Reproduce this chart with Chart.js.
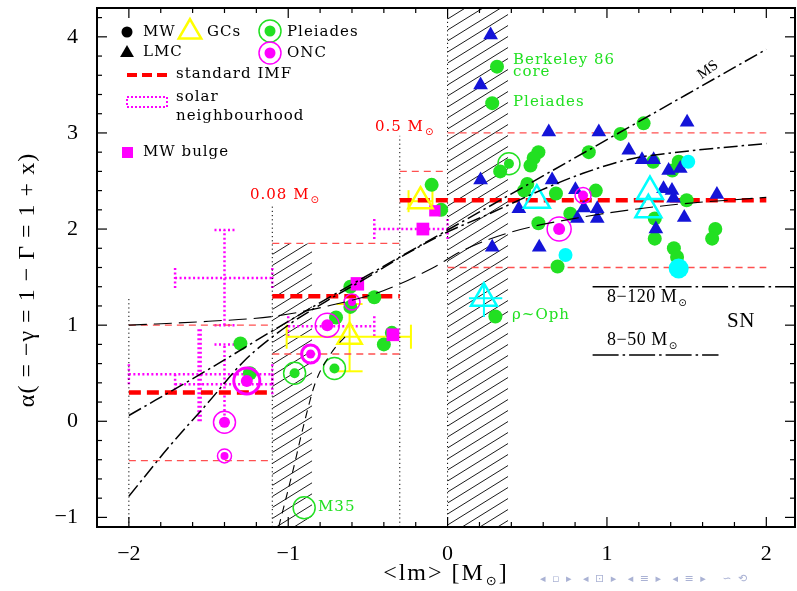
<!DOCTYPE html>
<html><head><meta charset="utf-8">
<script src="https://cdn.jsdelivr.net/npm/chart.js@4.4.1/dist/chart.umd.min.js"></script>
<style>html,body{margin:0;padding:0;background:#fff}canvas{display:block}</style>
</head><body>
<canvas id="c" width="797" height="591"></canvas>
<script>
// ---------------- data ----------------
const xTickValues = [-2, -1, 0, 1, 2];
const yTickValues = [-1, 0, 1, 2, 3, 4];

// Milky Way clusters (green filled circles) [lm, alpha]
const mwClusters = [
 [-1.30,0.81],[-1.24,0.50],[-0.61,1.40],[-0.46,1.29],[-0.61,1.19],[-0.70,1.08],[-0.40,0.80],[-0.35,0.92],
 [-0.10,2.46],[-0.04,2.20],[0.31,3.69],[0.28,3.31],[0.30,1.09],[0.33,2.60],
 [0.57,2.80],[0.54,2.74],[0.52,2.66],[0.50,2.47],[0.48,2.40],[0.68,2.37],[0.93,2.40],[0.886,2.80],
 [1.085,2.99],[1.23,3.10],[1.29,2.70],[1.45,2.70],[1.50,2.30],[0.77,2.16],[0.57,2.06],[1.30,2.11],
 [1.30,1.90],[1.42,1.80],[1.44,1.71],[1.68,2.00],[1.66,1.90],[0.69,1.61],[1.41,2.61]
];
// LMC clusters (blue triangles)
const lmcClusters = [
 [0.27,4.02],[0.207,3.50],[0.207,2.51],[0.28,1.81],[0.447,2.21],[0.575,1.81],
 [0.635,3.01],[0.949,3.01],[1.503,3.11],[1.137,2.82],[1.22,2.72],[1.293,2.72],[1.387,2.61],[1.46,2.63],
 [0.656,2.51],[0.802,2.41],[1.355,2.42],[1.408,2.40],[1.418,2.32],[1.69,2.36],[0.855,2.22],[0.939,2.21],
 [0.814,2.11],[0.939,2.11],[1.485,2.12],[1.307,2.00]
];
const cyanDots = [[1.51,2.70],[0.74,1.73],[1.45,1.59]];
const cyanTriangles = [[0.56,2.30],[1.27,2.39],[1.26,2.20],[0.228,1.28]];
const cyanErr = [{x:0.228, y:1.28, xlo:0.134, xhi:0.343, ylo:1.085, yhi:1.43}];
// globular clusters
const gcs = [[-0.615,0.88],[-0.17,2.29]];
const gcErr = [{x:-0.615, y:0.88, xlo:-1.01, xhi:-0.23, ylo:0.52, yhi:1.22},
               {x:-0.17, y:2.29, xlo:-0.245, xhi:-0.095, ylo:null, yhi:null}];
// Pleiades-type rings, ONC-type rings, MW bulge
const pleiadesRings = [[-0.96,0.50],[-0.71,0.55],[0.385,2.68],[-0.90,-0.90]];
const pleiadesDots = [[-0.96,0.50],[-0.71,0.55],[0.385,2.68]];
const oncPoints = [[-0.755,1.00],[-0.86,0.70],[-1.26,0.42],[-1.40,-0.01],[-1.40,-0.36],[0.70,2.00],[0.85,2.35],[-0.60,1.24]];
const mwBulge = [[-0.08,2.19],[-0.155,2.00],[-0.566,1.43],[-0.343,0.90]];
// solar neighbourhood error bars: horizontal [alpha, lmFrom, lmTo], vertical [lm, alphaFrom, alphaTo]
const solarH = [[1.49,-1.71,-1.10],[0.49,-2.00,-1.10],[0.385,-1.71,-1.10],[0.99,-1.00,-0.46],[2.00,-0.46,0.00]];
const solarV = [[-1.40,1.00,1.99],[-1.40,0.06,0.80],[-1.556,0.00,0.97]];
// standard IMF [lmFrom, lmTo, alpha] and its uncertainty bounds
const stdIMF = [[-2.0,-1.1,0.3],[-1.1,-0.3,1.3],[-0.3,2.0,2.3]];
const stdIMFBounds = [[-2.0,-1.1,1.0],[-2.0,-1.1,-0.41],[-1.1,-0.3,1.85],[-1.1,-0.3,0.70],[-0.3,0.0,2.60],[0.0,2.0,3.0],[0.0,2.0,1.6]];
// mass limits (dotted verticals) [lm, top alpha]
const massLimits = [[-2.0,1.29],[-1.1,2.26],[-0.3,2.97],[0.0,4.3]];
// hatched regions [lmFrom, lmTo, top alpha]
const hatchRegions = [[-1.1,-0.85,1.85],[0.0,0.38,4.3]];
// model curves
const msCurve = [[-2,0.06],[-1.5,0.54],[-1,1.04],[-0.5,1.52],[0,1.99],[0.5,2.46],[1,2.93],[1.5,3.40],[2,3.87]];
const dashDotCurve = [[-2,-0.78],[-1.75,-0.27],[-1.5,0.20],[-1.275,0.63],[-1,1.00],[-0.77,1.24],[-0.5,1.50],[-0.25,1.75],[0,1.97],[0.25,2.15],[0.58,2.40],[0.85,2.58],[1.15,2.73],[1.5,2.81],[2.0,2.89]];
const longDashCurve = [[-2,1.00],[-1.5,1.04],[-1.1,1.09],[-0.75,1.20],[-0.4,1.36],[-0.1,1.59],[0.1,1.78],[0.38,1.96],[0.83,2.12],[1.4,2.25],[2.0,2.33]];
const steepDashCurve = [[-1.06,-1.1],[-0.97,-0.51],[-0.90,-0.02],[-0.83,0.40],[-0.73,0.71],[-0.62,0.92]];
// SN lines [lmFrom, lmTo, alpha]
const snLines = [[0.91,2.18,1.40],[0.91,1.70,0.69]];

// ---------------- build ----------------
const P = a => a.map(p => ({x:p[0], y:p[1]}));
const datasets = [];
function lineDS(data, color, width, dash, order, smooth){
  datasets.push({data, showLine:true, borderColor:color, borderWidth:width, borderDash:dash,
    pointRadius:0, pointHoverRadius:0, fill:false, tension:0, order,
    cubicInterpolationMode: smooth ? 'monotone' : 'default'});
}
function ptDS(data, o, order){
  datasets.push(Object.assign({data, showLine:false, order, pointHoverRadius:0}, o));
}
const RED = '#ff0000', RED_T = '#ff5050', GREEN = '#22e022', BLUE = '#1414d8', CYAN = '#00ffff', MAG = '#ff00ff', YEL = '#ffff00';

stdIMFBounds.forEach(s => lineDS(P([[s[0],s[2]],[s[1],s[2]]]), RED_T, 1.3, [7,5], 30));
massLimits.forEach(s => lineDS(P([[s[0],-1.1],[s[0],s[1]]]), '#000', 1, [1.2,3], 30));
stdIMF.forEach(s => lineDS(P([[s[0],s[2]],[s[1],s[2]]]), RED, 4.5, [12,6], 25));

ptDS(P(mwClusters), {pointStyle:'circle', pointRadius:7, pointBackgroundColor:GREEN, pointBorderColor:GREEN, pointBorderWidth:0}, 12);
ptDS(P(lmcClusters), {pointStyle:'triangle', pointRadius:8.5, pointBackgroundColor:BLUE, pointBorderColor:BLUE, pointBorderWidth:0}, 11);
ptDS(P(cyanDots), {pointStyle:'circle', pointRadius:[7,7,10], pointBackgroundColor:CYAN, pointBorderColor:CYAN, pointBorderWidth:0}, 10);
ptDS(P(cyanTriangles), {pointStyle:'triangle', pointRadius:15, pointBackgroundColor:'rgba(0,0,0,0)', pointBorderColor:CYAN, pointBorderWidth:2.5}, 9);
ptDS(P(pleiadesRings), {pointStyle:'circle', pointRadius:11, pointBackgroundColor:'rgba(0,0,0,0)', pointBorderColor:GREEN, pointBorderWidth:1.5}, 9);
ptDS(P(pleiadesDots), {pointStyle:'circle', pointRadius:5, pointBackgroundColor:GREEN, pointBorderColor:GREEN, pointBorderWidth:0}, 9);
ptDS(P(oncPoints), {pointStyle:'circle', pointRadius:[12,9,13,11,7,12,8,8], pointBackgroundColor:'rgba(0,0,0,0)', pointBorderColor:MAG, pointBorderWidth:[1.5,3,3,1.5,1.5,1.5,1.5,1.5]}, 8);
ptDS(P(oncPoints), {pointStyle:'circle', pointRadius:[6,4.5,6,5.5,4,6,5,4], pointBackgroundColor:MAG, pointBorderColor:MAG, pointBorderWidth:0}, 8);
ptDS(P(mwBulge), {pointStyle:'rect', pointRadius:[8,9,9.5,9], pointBackgroundColor:MAG, pointBorderColor:MAG, pointBorderWidth:0}, 7);
ptDS(P(gcs), {pointStyle:'triangle', pointRadius:14, pointBackgroundColor:'rgba(0,0,0,0)', pointBorderColor:YEL, pointBorderWidth:2.5}, 6);

lineDS(P(msCurve), '#000', 1.5, [14,4,2.5,4], 2, true);
lineDS(P(dashDotCurve), '#000', 1.5, [14,4,2.5,4], 2, true);
lineDS(P(longDashCurve), '#000', 1.1, [18,7], 2, true);
lineDS(P(steepDashCurve), '#000', 1.1, [8,6], 2, true);
snLines.forEach(s => lineDS(P([[s[0],s[2]],[s[1],s[2]]]), '#000', 1.5, [26,4,2.5,4], 2));

// ---------------- drawing helpers ----------------
function T(ctx, s, x, y, o = {}) {
  ctx.save();
  ctx.font = o.font || '15px "DejaVu Serif"';
  ctx.fillStyle = o.color || '#000';
  ctx.textAlign = o.align || 'left';
  ctx.textBaseline = 'middle';
  try { ctx.letterSpacing = (o.ls == null ? 1 : o.ls) + 'px'; } catch (e) {}
  if (o.rot) { ctx.translate(x, y); ctx.rotate(o.rot); ctx.fillText(s, 0, 0); }
  else ctx.fillText(s, x, y);
  const w = ctx.measureText(s).width;
  ctx.restore();
  return w;
}
function TM(ctx, pre, x, y, o, subFont, subDy) {
  const w = T(ctx, pre + 'M', x, y, o);
  const w2 = T(ctx, '⊙', x + w + 1, y + subDy, Object.assign({}, o, {font: subFont, ls: 0}));
  return w + 1 + w2;
}
function seg(ctx, x0, y0, x1, y1) { ctx.beginPath(); ctx.moveTo(x0, y0); ctx.lineTo(x1, y1); ctx.stroke(); }

const decor = {
  id: 'decor',
  beforeDatasetsDraw(chart) {
    const {ctx, chartArea: a, scales: {x: xs, y: ys}} = chart;
    const X = v => xs.getPixelForValue(v), Y = v => ys.getPixelForValue(v);
    hatchRegions.forEach(r => {
      const x0 = X(r[0]), x1 = X(r[1]), y0 = Math.max(Y(r[2]), a.top), y1 = a.bottom;
      ctx.save(); ctx.beginPath(); ctx.rect(x0, y0, x1 - x0, y1 - y0); ctx.clip();
      ctx.strokeStyle = '#000'; ctx.lineWidth = 0.9;
      const k = 0.62, step = 11, w = x1 - x0;
      for (let c = y0; c <= y1 + k * w + step; c += step) seg(ctx, x0, c, x1, c - k * w);
      ctx.restore();
    });
    ctx.save();
    ctx.beginPath(); ctx.rect(a.left, a.top, a.right - a.left, a.bottom - a.top); ctx.clip();
    ctx.strokeStyle = MAG; ctx.lineWidth = 2.5; ctx.setLineDash([2, 2.5]);
    solarH.forEach(h => {
      const y = Y(h[0]), x0 = X(h[1]), x1 = X(h[2]);
      seg(ctx, x0, y, x1, y); seg(ctx, x0, y - 10, x0, y + 10); seg(ctx, x1, y - 10, x1, y + 10);
    });
    solarV.forEach((v, i) => {
      const x = X(v[0]), y0 = Y(v[1]), y1 = Y(v[2]);
      ctx.lineWidth = i === 2 ? 4.5 : 2.5;
      seg(ctx, x, y0, x, y1);
      if (i < 2) { seg(ctx, x - 10, y1, x + 10, y1); if (i === 0) seg(ctx, x - 10, y0, x + 10, y0); }
    });
    ctx.setLineDash([]);
    ctx.strokeStyle = YEL; ctx.lineWidth = 2;
    gcErr.forEach(e => {
      const y = Y(e.y), x = X(e.x);
      const c = e.ylo == null ? 11 : 12;
      seg(ctx, X(e.xlo), y, X(e.xhi), y);
      seg(ctx, X(e.xlo), y - c, X(e.xlo), y + c); seg(ctx, X(e.xhi), y - c, X(e.xhi), y + c);
      if (e.ylo != null) {
        seg(ctx, x, Y(e.ylo), x, Y(e.yhi));
        seg(ctx, x - 13, Y(e.ylo), x + 13, Y(e.ylo)); seg(ctx, x - 13, Y(e.yhi), x + 13, Y(e.yhi));
      }
    });
    ctx.strokeStyle = CYAN; ctx.lineWidth = 2;
    cyanErr.forEach(e => {
      seg(ctx, X(e.xlo), Y(e.y), X(e.xhi), Y(e.y));
      seg(ctx, X(e.x), Y(e.ylo), X(e.x), Y(e.yhi));
    });
    ctx.restore();
  },
  afterDraw(chart) {
    const {ctx, chartArea: a, scales: {x: xs, y: ys}} = chart;
    const X = v => xs.getPixelForValue(v), Y = v => ys.getPixelForValue(v);
    ctx.save();
    ctx.strokeStyle = '#000'; ctx.lineWidth = 2;
    ctx.strokeRect(a.left, a.top, a.right - a.left, a.bottom - a.top);
    ctx.lineWidth = 1.2;
    for (let k = -11; k <= 10; k++) {
      const v = k * 0.2, px = X(v), L = (Math.abs(v - Math.round(v)) < 1e-6) ? 10 : 5;
      if (px < a.left + 1 || px > a.right - 1) continue;
      seg(ctx, px, a.bottom, px, a.bottom - L); seg(ctx, px, a.top, px, a.top + L);
    }
    for (let k = -5; k <= 21; k++) {
      const v = k * 0.2, py = Y(v), L = (Math.abs(v - Math.round(v)) < 1e-6) ? 10 : 5;
      if (py < a.top + 1 || py > a.bottom - 1) continue;
      seg(ctx, a.left, py, a.left + L, py); seg(ctx, a.right, py, a.right - L, py);
    }
    // legend
    const LF = {font: '15px "DejaVu Serif"', ls: 1};
    ctx.fillStyle = '#000'; ctx.beginPath(); ctx.arc(127, 32, 5.5, 0, 2 * Math.PI); ctx.fill();
    T(ctx, 'MW', 143, 32, LF);
    const tri = (cx, cy, r) => { ctx.beginPath(); for (let i = 0; i < 3; i++) { const t = -Math.PI / 2 + i * 2 * Math.PI / 3; const px = cx + r * Math.cos(t), py = cy + r * Math.sin(t); i ? ctx.lineTo(px, py) : ctx.moveTo(px, py); } ctx.closePath(); };
    ctx.strokeStyle = YEL; ctx.lineWidth = 2.5; tri(190, 32, 13); ctx.stroke();
    T(ctx, 'GCs', 207, 32, LF);
    ctx.strokeStyle = GREEN; ctx.lineWidth = 1.5; ctx.beginPath(); ctx.arc(270, 31, 11, 0, 2 * Math.PI); ctx.stroke();
    ctx.fillStyle = GREEN; ctx.beginPath(); ctx.arc(270, 31, 5.5, 0, 2 * Math.PI); ctx.fill();
    T(ctx, 'Pleiades', 287, 32, LF);
    ctx.fillStyle = '#000'; tri(127, 53, 8); ctx.fill();
    T(ctx, 'LMC', 143, 52, LF);
    ctx.strokeStyle = MAG; ctx.lineWidth = 1.5; ctx.beginPath(); ctx.arc(270, 53, 11, 0, 2 * Math.PI); ctx.stroke();
    ctx.fillStyle = MAG; ctx.beginPath(); ctx.arc(270, 53, 5.5, 0, 2 * Math.PI); ctx.fill();
    T(ctx, 'ONC', 287, 53, LF);
    ctx.strokeStyle = RED; ctx.lineWidth = 4; ctx.setLineDash([10, 5]); seg(ctx, 127, 75, 168, 75); ctx.setLineDash([]);
    T(ctx, 'standard IMF', 176, 74, LF);
    ctx.strokeStyle = MAG; ctx.lineWidth = 2; ctx.setLineDash([2, 2]);
    ctx.strokeRect(127, 97, 40, 10); ctx.setLineDash([]);
    T(ctx, 'solar', 176, 97, LF);
    T(ctx, 'neighbourhood', 176, 116, LF);
    ctx.fillStyle = MAG; ctx.fillRect(122, 147, 11, 11);
    T(ctx, 'MW bulge', 143, 152, LF);
    const RF = {font: '15px "DejaVu Serif"', color: RED, ls: 1};
    TM(ctx, '0.08 ', 250, 195, RF, '10px "DejaVu Sans"', 5);
    TM(ctx, '0.5 ', 375, 127, RF, '10px "DejaVu Sans"', 5);
    const GF = {font: '15px "DejaVu Serif"', color: GREEN, ls: 1};
    T(ctx, 'Berkeley 86', 513, 60, GF);
    T(ctx, 'core', 513, 72, GF);
    T(ctx, 'Pleiades', 513, 102, GF);
    T(ctx, 'ρ~Oph', 512, 315, GF);
    T(ctx, 'M35', 318, 507, GF);
    T(ctx, 'MS', 708, 70, {font: '15px "Liberation Serif"', ls: 0, align: 'center', rot: -0.62});
    const BF = {font: '18px "Liberation Serif"', ls: 0.5};
    TM(ctx, '8−120 ', 607, 297, BF, '10px "DejaVu Sans"', 6);
    TM(ctx, '8−50 ', 607, 340, BF, '10px "DejaVu Sans"', 6);
    T(ctx, 'SN', 727, 321, {font: '21px "Liberation Serif"', ls: 0.5});
    // axis titles
    const AF = {font: '24px "Liberation Serif"', ls: 2};
    const xt = '<lm> [';
    ctx.save(); ctx.font = AF.font; try { ctx.letterSpacing = '2px'; } catch (e) {} const wA = ctx.measureText(xt + 'M]').width; ctx.restore();
    const x0 = 446 - (wA + 14) / 2;
    const w1 = TM(ctx, xt, x0, 574, AF, '13px "DejaVu Sans"', 8);
    T(ctx, ']', x0 + w1 + 2, 574, AF);
    T(ctx, 'α( = −γ = 1 − Γ = 1 + x)', 28, 280, {font: '24px "Liberation Serif"', ls: 1, align: 'center', rot: -Math.PI / 2});
    T(ctx, '◂ ▫ ▸  ◂ ⊡ ▸  ◂ ≡ ▸  ◂ ≡ ▸   ∽ ⟲', 540, 579, {font: '11px "DejaVu Sans"', color: '#aab2d4', ls: 1.5});
    ctx.restore();
  }
};

const fmt = v => (v < 0 ? '−' + Math.abs(v) : String(v));
const zeroPad = s => { s.paddingTop = 0; s.paddingBottom = 0; s.paddingLeft = 0; s.paddingRight = 0; };
new Chart(document.getElementById('c'), {
  type: 'scatter',
  data: {datasets},
  options: {
    responsive: false, animation: false, events: [],
    layout: {autoPadding: false, padding: {top: 8, right: 2, left: 0, bottom: 0}},
    plugins: {legend: {display: false}, tooltip: {enabled: false}},
    scales: {
      x: {type: 'linear', min: -2.2, max: 2.18,
        grid: {display: false}, border: {display: false},
        afterBuildTicks: s => { s.ticks = xTickValues.map(v => ({value: v})); },
        afterFit: s => { s.height = 64; zeroPad(s); },
        ticks: {callback: fmt, color: '#000', font: {family: 'Liberation Serif', size: 22}, padding: 6, maxRotation: 0, autoSkip: false}},
      y: {type: 'linear', min: -1.1, max: 4.3,
        grid: {display: false}, border: {display: false},
        afterBuildTicks: s => { s.ticks = yTickValues.map(v => ({value: v})); },
        afterFit: s => { s.width = 97; zeroPad(s); },
        ticks: {callback: fmt, color: '#000', font: {family: 'Liberation Serif', size: 22}, padding: 11, autoSkip: false}}
    }
  },
  plugins: [decor]
});
</script>
</body></html>
